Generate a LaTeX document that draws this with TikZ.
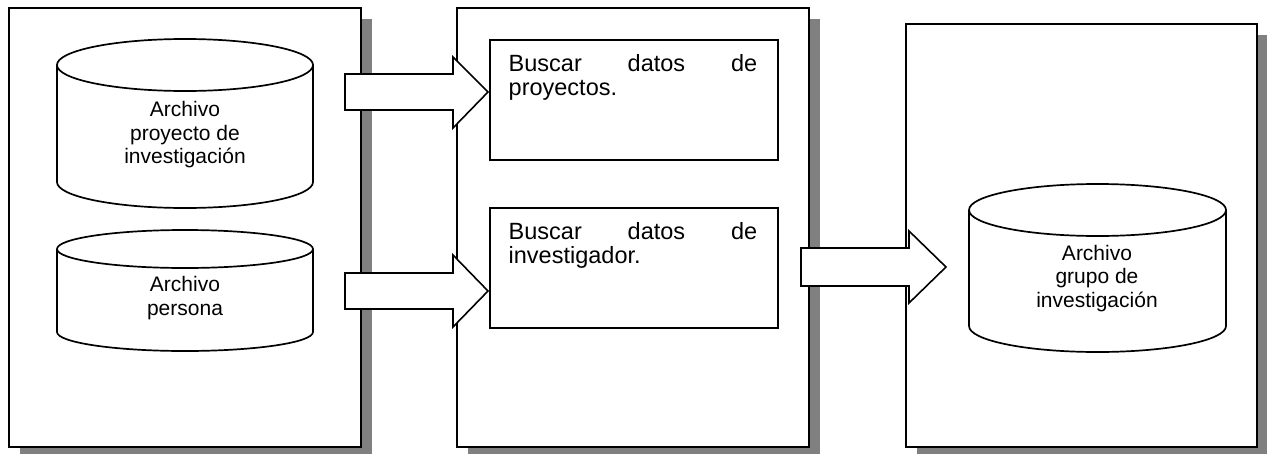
\documentclass[tikz,border=0pt]{standalone}
\usepackage{fontspec}
\setmainfont{Liberation Sans}
\usetikzlibrary{shadows}
\definecolor{shadowgray}{HTML}{808080}
\begin{document}
\begin{tikzpicture}[x=1pt,y=-1pt,
  line join=miter,
  panel/.style={draw=black, line width=1.8pt, fill=white, inner sep=0pt, outer sep=0pt, anchor=north west,
    drop shadow={shadow xshift=10.5pt, shadow yshift=-10.5pt, fill=shadowgray, opacity=1}},
  stepbox/.style={draw=black, line width=1.7pt, fill=white, inner sep=0pt, anchor=north west,
    minimum width=288pt, minimum height=120pt},
  boxtext/.style={inner sep=0pt, anchor=base west, font=\fontsize{23.5}{24}\selectfont},
  cyltext/.style={inner sep=0pt, anchor=north, align=center, font=\fontsize{21}{23.5}\selectfont},
  cylline/.style={draw=black, line width=1.7pt},
  blockarrow/.style={draw=black, line width=1.6pt, fill=white, line join=miter},
]
\useasboundingbox (0,0) rectangle (1267,453);
\clip (0,0) rectangle (1267,453);

% panels
\node[panel, minimum width=352pt, minimum height=439pt] (p1) at (9,8) {};
\node[panel, minimum width=352pt, minimum height=439pt] (p2) at (457,8) {};
\node[panel, minimum width=351pt, minimum height=423pt] (p3) at (906,24) {};

% cylinder 1
\fill[white] (185,182) ellipse [x radius=128, y radius=26];
\draw[cylline] (185,182) ellipse [x radius=128, y radius=26];
\fill[white] (57,65) rectangle (313,182);
\draw[cylline] (57,65) -- (57,182) (313,65) -- (313,182);
\draw[cylline, fill=white] (185,65) ellipse [x radius=128, y radius=26];
\node[cyltext] (c1) at (185,101.5) {Archivo\\proyecto de\\investigación};

% cylinder 2
\fill[white] (185,332) ellipse [x radius=128, y radius=19];
\draw[cylline] (185,332) ellipse [x radius=128, y radius=19];
\fill[white] (57,249) rectangle (313,332);
\draw[cylline] (57,249) -- (57,332) (313,249) -- (313,332);
\draw[cylline, fill=white] (185,249) ellipse [x radius=128, y radius=19];
\node[cyltext] (c2) at (185,276.5) {Archivo\\persona};

% cylinder 3
\fill[white] (1097.5,326) ellipse [x radius=128.5, y radius=26];
\draw[cylline] (1097.5,326) ellipse [x radius=128.5, y radius=26];
\fill[white] (969,210) rectangle (1226,326);
\draw[cylline] (969,210) -- (969,326) (1226,210) -- (1226,326);
\draw[cylline, fill=white] (1097.5,210) ellipse [x radius=128.5, y radius=26];
\node[cyltext] (c3) at (1097,245) {Archivo\\grupo de\\investigación};

% process boxes
\node[stepbox] (b1) at (489,39) {};
\node[stepbox] (b2) at (489,207) {};
\node[boxtext] (t1a) at (508.5,71.5) {\hbox to 248.5pt{Buscar\hfill datos\hfill de}};
\node[boxtext] (t1b) at (508.5,95.5) {proyectos.};
\node[boxtext] (t2a) at (508.5,239.5) {\hbox to 248.5pt{Buscar\hfill datos\hfill de}};
\node[boxtext] (t2b) at (508.5,263.5) {investigador.};

% block arrows
\coordinate (a1tip) at (488,92);
\coordinate (a2tip) at (488,291);
\coordinate (a3tip) at (946,267);
\draw[blockarrow] (345,74) -- (453,74) -- (453,57) -- (a1tip) -- (453,128) -- (453,110) -- (345,110) -- cycle;
\draw[blockarrow] (345,273) -- (453,273) -- (453,255) -- (a2tip) -- (453,327) -- (453,309) -- (345,309) -- cycle;
\draw[blockarrow] (801,248) -- (909,248) -- (909,231) -- (a3tip) -- (909,303) -- (909,286) -- (801,286) -- cycle;
\end{tikzpicture}
\end{document}
